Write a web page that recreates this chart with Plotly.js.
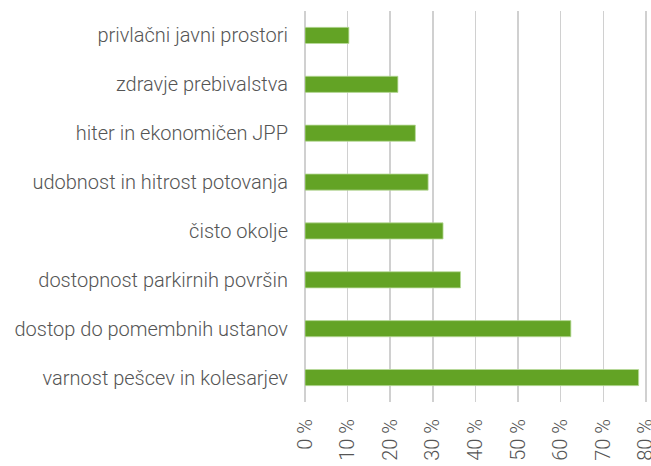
<!DOCTYPE html>
<html><head><meta charset="utf-8">
<script src="https://cdn.plot.ly/plotly-3.0.1.min.js"></script>
<style>html,body{margin:0;padding:0;background:#fff}#chart{width:651px;height:466px}</style>
</head><body><div id="chart"></div>
<script>
const categories = [
  "privlačni javni prostori",
  "zdravje prebivalstva",
  "hiter in ekonomičen JPP",
  "udobnost in hitrost potovanja",
  "čisto okolje",
  "dostopnost parkirnih površin",
  "dostop do pomembnih ustanov",
  "varnost pešcev in kolesarjev"
];
const values = [10.3, 21.8, 25.9, 28.9, 32.4, 36.5, 62.4, 78.3];
const tickVals = [0, 10, 20, 30, 40, 50, 60, 70, 80];
const tickText = ["0 %", "10 %", "20 %", "30 %", "40 %", "50 %", "60 %", "70 %", "80 %"];

const FONT = "Roboto Light, Roboto, sans-serif";
const trace = {
  type: "bar", orientation: "h",
  x: values, y: categories,
  width: 0.33,
  marker: {color: "#63a325", line: {color: "#b9d99a", width: 0.8}},
  hoverinfo: "skip"
};
const layout = {
  width: 651, height: 466,
  margin: {l: 305, r: 3, t: 11, b: 64, pad: 0, autoexpand: false},
  paper_bgcolor: "#fff", plot_bgcolor: "#fff",
  font: {family: FONT, size: 20, color: "#555555", weight: 300},
  showlegend: false,
  xaxis: {
    range: [0, 80.5], tickvals: tickVals, ticktext: tickText,
    tickangle: -90, showgrid: true, gridcolor: "#d0d0d0", gridwidth: 1.5,
    zeroline: true, zerolinecolor: "#d0d0d0", zerolinewidth: 1.5,
    showline: false, ticks: "outside", ticklen: 8, tickcolor: "rgba(0,0,0,0)",
    ticklabeloverflow: "allow",
    tickfont: {family: FONT, size: 20, color: "#555555", weight: 300},
    fixedrange: true
  },
  yaxis: {
    type: "category", autorange: "reversed",
    showgrid: false, zeroline: false, showline: false,
    ticks: "outside", ticklen: 12, tickcolor: "rgba(0,0,0,0)",
    tickfont: {family: FONT, size: 20, color: "#555555", weight: 300},
    fixedrange: true
  }
};
Plotly.newPlot("chart", [trace], layout, {displayModeBar: false, staticPlot: true});
</script></body></html>
